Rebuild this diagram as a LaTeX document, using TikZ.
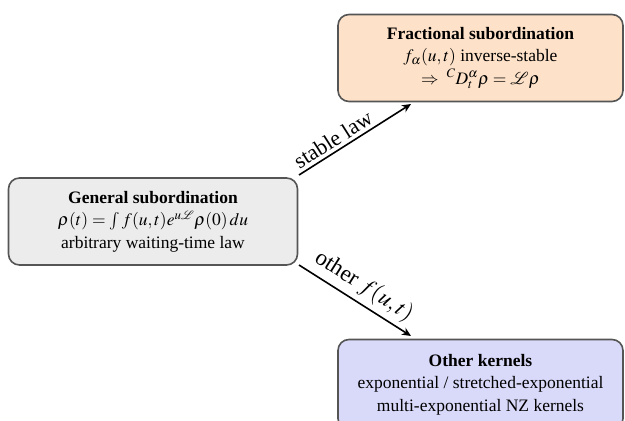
\documentclass[tikz,border=0pt]{standalone}
\usepackage{mathptmx}
\usepackage{mathrsfs}
\usepackage[no-math]{fontspec}
\setmainfont{Liberation Serif}
\newfontfamily\tms{Liberation Serif}
\usetikzlibrary{arrows.meta}
\definecolor{boxline}{HTML}{555555}
\definecolor{grayfill}{HTML}{ECECEC}
\definecolor{peach}{HTML}{FDE1C8}
\definecolor{lavender}{HTML}{D9D9FA}
\tikzset{
  card/.style={draw=boxline, line width=1.6pt, rounded corners=11pt,
    minimum width=289pt, minimum height=87pt, align=center,
    font=\tms\fontsize{17.5}{22.5}\selectfont, inner sep=0pt},
  link/.style={line width=1.6pt, -{Stealth[length=9pt,width=8pt]}},
  lbl/.style={font=\tms\fontsize{22}{24}\selectfont, sloped, above}
}
\begin{document}
\begin{tikzpicture}[x=1pt,y=1pt]
\useasboundingbox (0,0) rectangle (625,-421);
\begin{scope}
\clip (0,0) rectangle (625,-421);
\node[card, fill=grayfill] (gen) at (153,-221.5)
  {\textbf{General subordination}\\
   $\rho(t)=\int f(u,t)e^{u\mathscr{L}}\rho(0)\,du$\\
   arbitrary waiting-time law};
\node[card, fill=peach, minimum width=285pt] (frac) at (480.5,-58)
  {\textbf{Fractional subordination}\\
   $f_\alpha(u,t)$ inverse-stable\\
   $\Rightarrow\ {}^{C}D_t^{\alpha}\rho=\mathscr{L}\rho$};
\node[card, fill=lavender, minimum width=285pt, minimum height=90pt] (oth) at (480.5,-384.5)
  {\textbf{Other kernels}\\
   exponential / stretched-exponential\\
   multi-exponential NZ kernels};
\end{scope}
\coordinate (s1) at (299,-175);
\coordinate (e1) at (411,-104);
\coordinate (s2) at (299,-265);
\coordinate (e2) at (411,-336);
\draw[link] (s1) -- node[lbl, pos=0.36] {stable law} (e1);
\draw[link] (s2) -- node[lbl, pos=0.5, yshift=1pt, font=\tms\fontsize{23}{24}\selectfont] {other $f(u,t)$} (e2);
\end{tikzpicture}
\end{document}
